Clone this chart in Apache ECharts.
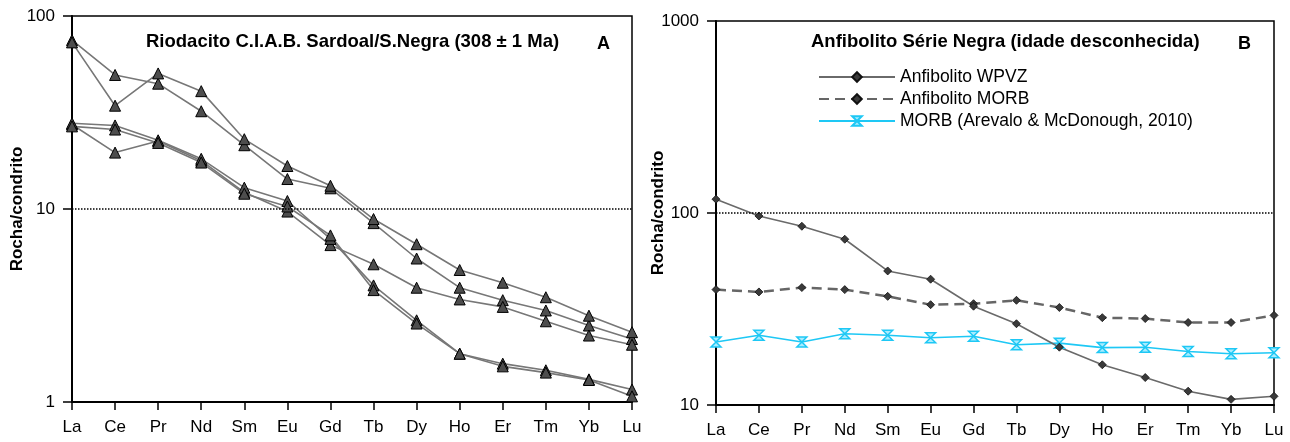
<!DOCTYPE html>
<html>
<head>
<meta charset="utf-8">
<script src="https://cdn.jsdelivr.net/npm/echarts@6/dist/echarts.min.js"></script>
<style>
  html, body { margin: 0; padding: 0; background: #fff; }
  #chart-container { width: 1290px; height: 442px; }
</style>
</head>
<body>
<div id="chart-container"></div>
<script>
// elementos terras raras (eixo x)
const elements = ['La', 'Ce', 'Pr', 'Nd', 'Sm', 'Eu', 'Gd', 'Tb', 'Dy', 'Ho', 'Er', 'Tm', 'Yb', 'Lu'];

// painel A - riodacitos (normalizado ao condrito)
const riodacito1 = [75, 49.5, 44.6, 32.1, 21.4, 14.3, 12.8, 8.45, 5.54, 3.91, 3.37, 2.98, 2.49, 2.12];
const riodacito2 = [73, 34.3, 50.4, 40.8, 23.0, 16.7, 13.2, 8.87, 6.57, 4.83, 4.15, 3.49, 2.80, 2.30];
const riodacito3 = [27.4, 19.6, 22.5, 17.8, 12.2, 9.7, 6.5, 5.17, 3.91, 3.40, 3.11, 2.62, 2.21, 1.98];
const riodacito4 = [27.8, 27.1, 22.7, 18.2, 12.9, 11.0, 7.0, 4.02, 2.65, 1.78, 1.58, 1.46, 1.31, 1.16];
const riodacito5 = [26.8, 25.8, 22.0, 17.4, 12.0, 10.3, 7.3, 3.80, 2.55, 1.78, 1.53, 1.42, 1.30, 1.07];

// painel B - anfibolitos
const anfWPVZ = [118, 96.5, 85.3, 73.0, 49.9, 45.2, 32.7, 26.5, 20.0, 16.2, 13.9, 11.8, 10.7, 11.1];
const anfMORB = [39.9, 38.8, 40.9, 39.9, 36.8, 33.3, 33.7, 35.1, 32.2, 28.5, 28.2, 26.9, 26.9, 29.3];
const morbRef = [21.3, 23.1, 21.3, 23.5, 23.1, 22.4, 22.8, 20.6, 21.0, 19.9, 20.0, 19.0, 18.5, 18.7];

// linhas de referencia pontilhadas
const refA = 10;
const refB = 100;

const font = 'Liberation Sans';
const hourglass = 'path://M0,0L10,0L0,10L10,10Z';

function xAxisCfg(gridIndex) {
  return {
    type: 'category',
    gridIndex: gridIndex,
    data: elements,
    boundaryGap: false,
    axisLine: { lineStyle: { color: '#000', width: 2 } },
    axisTick: { length: 8, lineStyle: { color: '#000', width: 1.5 } },
    axisLabel: { color: '#000', fontSize: 17, fontFamily: font, margin: 17 },
    splitLine: { show: false }
  };
}

function yAxisCfg(gridIndex, min, max, gap) {
  return {
    type: 'log',
    logBase: 10,
    gridIndex: gridIndex,
    min: min,
    max: max,
    name: 'Rocha/condrito',
    nameLocation: 'middle',
    nameGap: gap,
    nameMoveOverlap: false,
    nameTextStyle: { color: '#000', fontSize: 17, fontWeight: 'bold', fontFamily: font },
    axisLine: { show: true, lineStyle: { color: '#000', width: 2 } },
    axisTick: { show: true, length: 9, lineStyle: { color: '#000', width: 1.5 } },
    minorTick: { show: false },
    axisLabel: {
      color: '#000', fontSize: 17, fontFamily: font, margin: 17,
      formatter: function (v) { return String(Math.round(v)); }
    },
    splitLine: { show: false }
  };
}

const dotted = function (value) {
  return {
    silent: true,
    symbol: 'none',
    animation: false,
    label: { show: false },
    lineStyle: { color: '#000', type: 'dotted', width: 1.5 },
    data: [{ yAxis: value }]
  };
};

function rioSeries(name, values, withRef) {
  const s = {
    name: name,
    type: 'line',
    xAxisIndex: 0,
    yAxisIndex: 0,
    data: values,
    symbol: 'triangle',
    symbolSize: 11,
    lineStyle: { color: '#777', width: 1.6 },
    itemStyle: { color: '#4d4d4d', borderColor: '#000', borderWidth: 1 },
    z: 3
  };
  if (withRef) s.markLine = dotted(refA);
  return s;
}

const chartOption = {
  animation: false,
  textStyle: { fontFamily: font },
  title: [
    {
      text: 'Riodacito C.I.A.B. Sardoal/S.Negra (308 ± 1 Ma)',
      left: 146, top: 32, padding: 0,
      textStyle: { fontSize: 18.5, fontWeight: 'bold', color: '#000', fontFamily: font }
    },
    {
      text: 'A',
      left: 597, top: 35, padding: 0,
      textStyle: { fontSize: 18, fontWeight: 'bold', color: '#000', fontFamily: font }
    },
    {
      text: 'Anfibolito Série Negra (idade desconhecida)',
      left: 811, top: 32, padding: 0,
      textStyle: { fontSize: 18.5, fontWeight: 'bold', color: '#000', fontFamily: font }
    },
    {
      text: 'B',
      left: 1238, top: 35, padding: 0,
      textStyle: { fontSize: 18, fontWeight: 'bold', color: '#000', fontFamily: font }
    }
  ],
  legend: {
    data: ['Anfibolito WPVZ', 'Anfibolito MORB', 'MORB (Arevalo & McDonough, 2010)'],
    orient: 'vertical',
    left: 818,
    top: 68,
    padding: 0,
    itemWidth: 76,
    itemHeight: 12,
    itemGap: 4,
    textStyle: { color: '#000', fontSize: 17.5, fontFamily: font, padding: [0, 0, 0, 0] }
  },
  grid: [
    { left: 72, top: 16, width: 560, height: 386, show: true, borderColor: '#000', borderWidth: 1.5 },
    { left: 716, top: 21, width: 558, height: 384, show: true, borderColor: '#000', borderWidth: 1.5 }
  ],
  xAxis: [xAxisCfg(0), xAxisCfg(1)],
  yAxis: [yAxisCfg(0, 1, 100, 46), yAxisCfg(1, 10, 1000, 49)],
  series: [
    rioSeries('R1', riodacito1, true),
    rioSeries('R2', riodacito2, false),
    rioSeries('R3', riodacito3, false),
    rioSeries('R4', riodacito4, false),
    rioSeries('R5', riodacito5, false),
    {
      name: 'MORB (Arevalo & McDonough, 2010)',
      type: 'line',
      xAxisIndex: 1,
      yAxisIndex: 1,
      data: morbRef,
      symbol: hourglass,
      symbolSize: 10,
      lineStyle: { color: '#1ec8f5', width: 1.6 },
      itemStyle: { color: '#a8ecff', borderColor: '#1ec8f5', borderWidth: 1.5 },
      markLine: dotted(refB)
    },
    {
      name: 'Anfibolito MORB',
      type: 'line',
      xAxisIndex: 1,
      yAxisIndex: 1,
      data: anfMORB,
      symbol: 'diamond',
      symbolSize: 8,
      lineStyle: { color: '#666', width: 2.5, type: [10, 6] },
      itemStyle: { color: '#3a3a3a', borderColor: '#111', borderWidth: 0.8 }
    },
    {
      name: 'Anfibolito WPVZ',
      type: 'line',
      xAxisIndex: 1,
      yAxisIndex: 1,
      data: anfWPVZ,
      symbol: 'diamond',
      symbolSize: 8,
      lineStyle: { color: '#6a6a6a', width: 1.6 },
      itemStyle: { color: '#3a3a3a', borderColor: '#111', borderWidth: 0.8 }
    }
  ]
};

const chartContainer = document.getElementById('chart-container');
const chart = echarts.init(chartContainer, null, { renderer: 'canvas' });
chart.setOption(chartOption);
</script>
</body>
</html>
